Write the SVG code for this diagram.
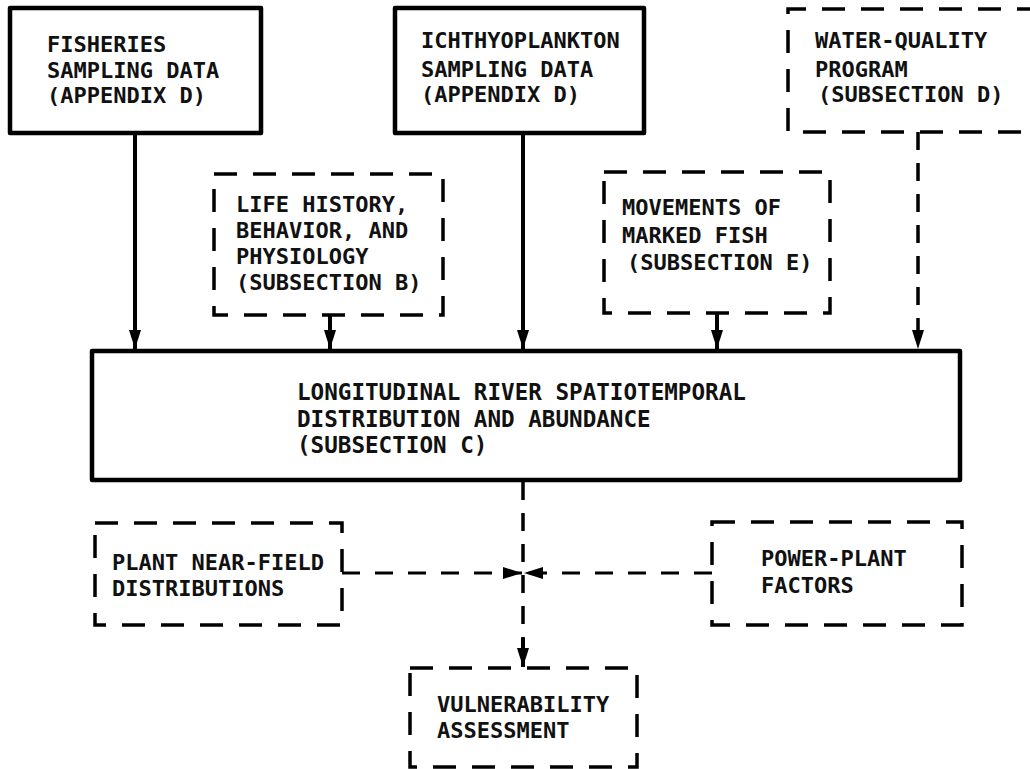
<svg xmlns="http://www.w3.org/2000/svg" width="1030" height="769" viewBox="0 0 1030 769">
<style>
  .solid { fill: #fff; stroke: #000; stroke-width: 4.5; stroke-linejoin: round; }
  .dash { fill: none; stroke: #000; stroke-width: 3.5; stroke-dasharray: 23 16; }
  .t { font-family: "DejaVu Sans Mono", "Liberation Mono", monospace; font-size: 22px; font-weight: bold; fill: #111; }
  .tm { font-size: 22.6px; }
  .c { fill: none; stroke: #000; stroke-width: 4; }
  .cd { fill: none; stroke: #000; stroke-width: 3.5; stroke-dasharray: 18 13; }
  .cdh { fill: none; stroke: #000; stroke-width: 3; stroke-dasharray: 18 15; }
</style>
<defs>
  <marker id="ah" markerUnits="userSpaceOnUse" markerWidth="20" markerHeight="12" refX="19" refY="6" orient="auto">
    <path d="M0,0 L19,6 L0,12 z" fill="#000"/>
  </marker>
</defs>
<rect width="1030" height="769" fill="#fff"/>

<g id="connectors">
  <line class="c" x1="135" y1="133" x2="135" y2="349" marker-end="url(#ah)"/>
  <line class="c" x1="330" y1="315" x2="330" y2="349" marker-end="url(#ah)"/>
  <line class="c" x1="523" y1="133" x2="523" y2="349" marker-end="url(#ah)"/>
  <line class="c" x1="717" y1="313" x2="717" y2="349" marker-end="url(#ah)"/>
  <line class="cd" x1="918" y1="132" x2="918" y2="349" marker-end="url(#ah)"/>
  <line class="cd" x1="523" y1="482" x2="523" y2="640"/>
  <line class="c" x1="523" y1="638" x2="523" y2="667" stroke-width="3" marker-end="url(#ah)"/>
  <line class="cdh" x1="342" y1="573" x2="522" y2="573" marker-end="url(#ah)"/>
  <line class="cdh" x1="712" y1="573" x2="524" y2="573" marker-end="url(#ah)"/>
</g>

<g id="fisheries">
  <rect class="solid" x="10" y="8" width="251" height="125"/>
  <text class="t" x="47" y="52">FISHERIES</text>
  <text class="t" x="47" y="78">SAMPLING DATA</text>
  <text class="t" x="47" y="103">(APPENDIX D)</text>
</g>

<g id="ichthyoplankton">
  <rect class="solid" x="395" y="8" width="249" height="125"/>
  <text class="t" x="421" y="48">ICHTHYOPLANKTON</text>
  <text class="t" x="421" y="77">SAMPLING DATA</text>
  <text class="t" x="421" y="102">(APPENDIX D)</text>
</g>

<g id="water-quality">
  <path class="dash" d="M1040,9 L788,9 L788,132 L1040,132"/>
  <text class="t" x="815" y="48">WATER-QUALITY</text>
  <text class="t" x="815" y="77">PROGRAM</text>
  <text class="t" x="818" y="102">(SUBSECTION D)</text>
</g>

<g id="life-history">
  <rect class="dash" x="214" y="174" width="229" height="141"/>
  <text class="t" x="236" y="212">LIFE HISTORY,</text>
  <text class="t" x="236" y="238">BEHAVIOR, AND</text>
  <text class="t" x="236" y="264">PHYSIOLOGY</text>
  <text class="t" x="236" y="290">(SUBSECTION B)</text>
</g>

<g id="movements">
  <rect class="dash" x="604" y="172" width="226" height="141"/>
  <text class="t" x="622" y="215">MOVEMENTS OF</text>
  <text class="t" x="622" y="243">MARKED FISH</text>
  <text class="t" x="627" y="270">(SUBSECTION E)</text>
</g>

<g id="longitudinal">
  <rect class="solid" x="92" y="351" width="868" height="129"/>
  <text class="t tm" x="297" y="400">LONGITUDINAL RIVER SPATIOTEMPORAL</text>
  <text class="t tm" x="297" y="427">DISTRIBUTION AND ABUNDANCE</text>
  <text class="t tm" x="297" y="453">(SUBSECTION C)</text>
</g>

<g id="plant-near-field">
  <rect class="dash" x="95" y="523" width="247" height="102"/>
  <text class="t" x="112" y="570">PLANT NEAR-FIELD</text>
  <text class="t" x="112" y="596">DISTRIBUTIONS</text>
</g>

<g id="power-plant">
  <rect class="dash" x="712" y="522" width="250" height="103"/>
  <text class="t" x="761" y="566">POWER-PLANT</text>
  <text class="t" x="761" y="593">FACTORS</text>
</g>

<g id="vulnerability">
  <rect class="dash" x="410" y="668" width="227" height="99"/>
  <text class="t" x="437" y="712">VULNERABILITY</text>
  <text class="t" x="437" y="738">ASSESSMENT</text>
</g>
</svg>
